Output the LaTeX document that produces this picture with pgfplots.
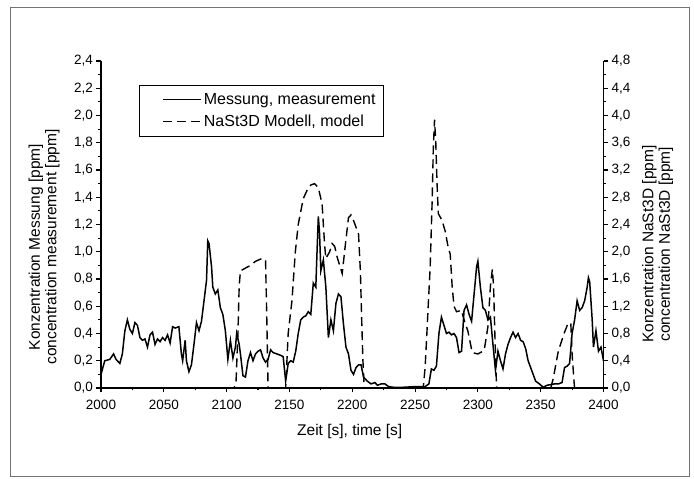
\documentclass[border=0pt]{standalone}
\usepackage{pgfplots}
\pgfplotsset{compat=1.18}
\usepackage{fontspec}
\setmainfont{Liberation Sans}

\pgfplotsset{
  /pgf/number format/assume math mode=true,
  common/.style={
    scale only axis,
    width=502.5pt, height=327pt,
    at={(101pt,91pt)}, anchor=south west,
    xmin=2000, xmax=2400,
    tick align=outside,
    major tick length=4.5pt, minor tick length=2.5pt,
    every tick/.style={black, line width=1.1pt},
    axis line style={line width=1.4pt},
    tick label style={font=\fontsize{13.5}{16}\selectfont},
    label style={font=\fontsize{15.5}{16.5}\selectfont, align=center},
    yticklabel style={/pgf/number format/.cd, fixed, fixed zerofill, precision=1, use comma},
  },
}

\begin{document}
\begin{tikzpicture}[x=1pt,y=1pt]
\useasboundingbox (0,0) rectangle (694,479);
\draw[line width=1pt, black!55] (10.7,2) rectangle (689,471.7);

% left axis: measurement
\begin{axis}[common,
  axis x line*=bottom, axis y line*=left,
  ymin=0, ymax=2.4,
  ytick={0,0.2,0.4,0.6,0.8,1.0,1.2,1.4,1.6,1.8,2.0,2.2,2.4},
  minor ytick={0.1,0.3,0.5,0.7,0.9,1.1,1.3,1.5,1.7,1.9,2.1,2.3},
  xtick={2000,2050,...,2400},
  minor xtick={2025,2075,...,2375},
  xticklabel style={/pgf/number format/1000 sep={}, yshift=-4pt},
  xlabel={Zeit [s], time [s]},
  xlabel style={at={(axis description cs:0.495,0)}, anchor=center, yshift=-43pt},
  ylabel={Konzentration Messung [ppm]\\concentration measurement [ppm]},
  ylabel style={at={(axis description cs:-0.1134,0.431)}, anchor=center},
]
\addplot[black, line width=1.5pt] coordinates {
(2000,0.10) (2003,0.20) (2007,0.21) (2010,0.25) (2012,0.21) (2015,0.18) (2017,0.25)
(2019,0.42) (2021,0.50) (2023,0.43) (2025,0.40) (2027,0.48) (2029,0.46) (2031,0.37)
(2033,0.35) (2035,0.36) (2037,0.30) (2039,0.39) (2041,0.41) (2043,0.32) (2045,0.36)
(2047,0.34) (2049,0.37) (2051,0.35) (2053,0.39) (2055,0.33) (2057,0.45) (2059,0.44)
(2062,0.45) (2064,0.25) (2065,0.20) (2067,0.35) (2068,0.20) (2070,0.12) (2072,0.17)
(2074,0.32) (2076,0.48) (2078,0.42) (2080,0.49) (2082,0.64) (2084,0.79) (2085,1.08)
(2086,1.06) (2088,0.89) (2089,0.74) (2091,0.69) (2093,0.72) (2095,0.59) (2097,0.54)
(2099,0.42) (2101,0.21) (2103,0.35) (2105,0.22) (2107,0.30) (2108,0.40) (2110,0.32)
(2111,0.25) (2113,0.09) (2115,0.08) (2117,0.20) (2119,0.26) (2121,0.20) (2123,0.25)
(2125,0.27) (2127,0.28) (2129,0.22) (2131,0.19) (2133,0.21) (2135,0.28) (2137,0.26)
(2140,0.25) (2143,0.24) (2145,0.23) (2147,0.05) (2149,0.18) (2151,0.20) (2153,0.19)
(2155,0.27) (2157,0.40) (2159,0.50) (2161,0.52) (2163,0.53) (2165,0.56) (2167,0.54)
(2169,0.77) (2171,0.74) (2172,1.01) (2173,1.26) (2174,1.13) (2175,0.86) (2177,0.94)
(2179,0.74) (2181,0.37) (2183,0.50) (2185,0.42) (2187,0.62) (2189,0.69) (2191,0.67)
(2193,0.47) (2195,0.30) (2197,0.25) (2199,0.13) (2201,0.10) (2203,0.15) (2205,0.17)
(2207,0.17) (2209,0.08) (2212,0.05) (2215,0.03) (2218,0.04) (2220,0.02) (2223,0.03)
(2226,0.03) (2229,0.01) (2233,0.005) (2240,0.005) (2250,0.01) (2258,0.01) (2261,0.03)
(2263,0.14) (2265,0.13) (2267,0.16) (2269,0.40) (2271,0.52) (2273,0.46) (2275,0.40)
(2277,0.41) (2279,0.39) (2281,0.40) (2283,0.37) (2285,0.26) (2287,0.27) (2289,0.57)
(2291,0.61) (2293,0.54) (2295,0.49) (2297,0.69) (2299,0.89) (2300,0.93) (2302,0.74)
(2304,0.59) (2306,0.57) (2308,0.50) (2310,0.52) (2312,0.32) (2314,0.13) (2316,0.27)
(2318,0.20) (2320,0.14) (2322,0.25) (2324,0.32) (2326,0.37) (2328,0.41) (2330,0.37)
(2332,0.40) (2334,0.35) (2336,0.34) (2338,0.29) (2340,0.20) (2342,0.15) (2344,0.10)
(2346,0.05) (2349,0.03) (2352,0.005) (2355,0.02) (2358,0.025) (2361,0.03) (2364,0.03)
(2367,0.04) (2369,0.15) (2371,0.16) (2373,0.18) (2375,0.40) (2377,0.50) (2379,0.64)
(2381,0.57) (2383,0.59) (2385,0.64) (2387,0.74) (2388,0.81) (2389,0.78) (2391,0.50)
(2392,0.30) (2394,0.42) (2396,0.27) (2398,0.30) (2400,0.20)
};
\end{axis}

% right axis: model
\begin{axis}[common,
  axis x line=none, axis y line*=right,
  ymin=0, ymax=4.8,
  ytick={0,0.4,0.8,1.2,1.6,2.0,2.4,2.8,3.2,3.6,4.0,4.4,4.8},
  minor ytick={0.2,0.6,1.0,1.4,1.8,2.2,2.6,3.0,3.4,3.8,4.2,4.6},
  ylabel={Konzentration NaSt3D [ppm]\\concentration NaSt3D [ppm]},
  ylabel style={at={(axis description cs:1.1075,0.44)}, anchor=center},
  legend image code/.code={\path (0pt,0pt); \draw[#1] (17pt,0pt) -- (55pt,0pt);},
  legend cell align=left,
  legend style={at={(axis description cs:0.0756,0.9266)}, anchor=north west,
    draw=black, line width=0.8pt, font=\fontsize{16}{19}\selectfont,
    inner xsep=6pt, inner ysep=6pt, row sep=5pt},
]
\addlegendimage{black, line width=1.5pt}
\addlegendentry{Messung, measurement}
\addplot[black, line width=1.4pt, dash pattern=on 9pt off 5pt] coordinates {
(2000,0) (2106,0) (2107.5,0.1) (2109,0.8) (2110,1.5) (2111,1.72) (2115,1.76) (2119,1.80)
(2123,1.86) (2128,1.90) (2131,1.88) (2132,1.0) (2133,0) (2147,0) (2149,0.8) (2152,1.28)
(2154.7,2.0) (2157,2.4) (2161,2.78) (2164,2.9) (2167,2.98) (2170,3.0) (2173,2.94)
(2176,2.7) (2178,2.1) (2179,1.9) (2182,2.0) (2184,2.12) (2186,2.08) (2188,1.92)
(2190,1.8) (2192,1.68) (2194.5,2.1) (2197,2.5) (2199,2.54) (2201,2.46) (2203,2.36)
(2205,2.26) (2206.5,1.7) (2207.7,0.88) (2208.5,0.4) (2209.5,0) (2256.5,0) (2258,0.3)
(2259.4,0.8) (2261,1.4) (2262,1.76) (2263.6,2.74) (2264.5,3.5) (2265.5,3.94) (2266.5,3.6)
(2267.5,3.0) (2268.5,2.56) (2271.5,2.46) (2274,2.3) (2276,2.1) (2278,1.96) (2279.5,1.5)
(2281,1.2) (2283,1.12) (2287,1.14) (2289,1.0) (2292,0.84) (2295.5,0.52) (2300,0.5)
(2305,0.55) (2308,0.9) (2310,1.5) (2311.5,1.74) (2312.5,1.5) (2313.5,0.8) (2314.5,0.2)
(2315,0) (2358,0) (2360,0.14) (2364,0.54) (2368.6,0.8) (2372,0.96) (2374,0.94)
(2375,0.5) (2376.6,0.08) (2377,0) (2400,0)
};
\addlegendentry{NaSt3D Modell, model}
\end{axis}
\end{tikzpicture}
\end{document}
